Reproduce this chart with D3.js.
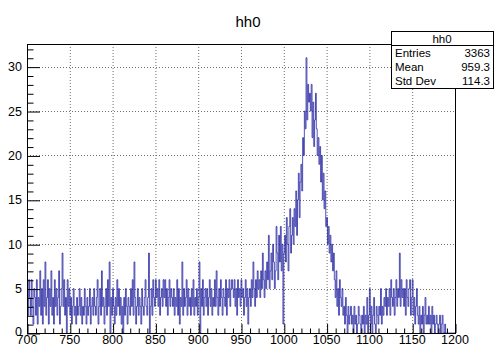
<!DOCTYPE html>
<html>
<head>
<meta charset="utf-8">
<script src="https://cdn.jsdelivr.net/npm/d3@7"></script>
<style>
  html, body { margin: 0; padding: 0; background: #fff; }
  svg { display: block; font-family: "Liberation Sans", Arial, sans-serif; }
</style>
</head>
<body>
<svg id="chart" width="501" height="347"></svg>
<script>
// hh0 – 1D histogram, 500 bins of width 1 over [700, 1200]
const binLow = 700, binWidth = 1;
const counts = [
  5,2,6,4,2,6,3,1,5,4,  2,6,1,4,3,7,2,5,1,6,  3,8,2,4,6,1,5,3,7,2,
  4,1,6,3,5,2,4,7,1,3,  5,9,3,6,2,4,0,6,3,5,  2,4,1,3,5,2,3,1,4,2,
  3,5,2,4,1,3,2,5,3,1,  4,2,3,5,1,3,4,2,5,3,  2,4,6,1,3,5,2,7,3,4,
  1,3,5,2,6,3,8,0,4,2,  5,3,1,4,2,6,3,5,2,4,  1,3,0,4,2,5,3,1,4,3,
  2,5,3,6,2,8,4,1,3,5,  2,4,3,1,5,3,2,4,6,3,  2,4,9,0,3,5,2,6,4,3,
  6,4,5,3,6,2,4,5,3,6,  4,6,3,5,2,4,6,3,5,4,  3,5,2,4,3,6,2,5,1,4,
  3,8,2,5,3,4,6,2,5,3,  4,2,5,3,6,2,4,3,5,2,  4,8,0,5,3,6,2,4,5,3,
  5,2,4,6,3,5,2,4,3,6,  3,7,4,2,5,3,6,4,2,5,  4,3,6,2,5,4,6,3,5,6,
  5,4,6,3,5,2,6,4,5,3,  6,4,5,2,4,6,3,5,1,4,  5,3,6,4,8,5,3,6,4,7,
  5,6,4,7,5,9,6,4,7,5,  8,6,11,5,7,9,6,10,8,5, 7,12,9,6,11,8,12,7,10,1,
  9,11,8,13,10,7,12,14,9,11, 13,10,14,12,16,11,15,18,13,17,
  19,16,22,20,25,23,31,24,28,26, 27,25,28,22,26,21,24,27,23,20,
  22,19,21,17,20,15,18,14,16,12, 13,10,12,9,11,8,10,7,9,6,
  4,7,3,5,2,6,4,3,5,2,  3,1,4,2,0,3,1,2,3,1,  2,0,3,1,2,0,1,3,2,1,
  0,2,1,3,0,2,1,4,0,2,  5,1,3,0,2,4,1,0,3,2,  1,3,2,5,1,3,2,4,3,5,
  2,4,3,5,2,6,4,3,5,2,  4,6,3,5,4,9,3,6,4,5,  3,5,2,6,4,3,5,6,2,4,
  6,2,4,1,3,5,2,1,3,0,  2,1,3,0,2,4,1,2,1,3,  1,2,0,3,1,2,0,1,2,1,
  0,1,2,0,1,2,0,0,1,0,  0,0,0,0,0,0,0,0,0,0
];
const xTicks = [700, 750, 800, 850, 900, 950, 1000, 1050, 1100, 1150, 1200];
const yTicks = [0, 5, 10, 15, 20, 25, 30];
const statLabels = ["Entries", "Mean", "Std Dev"];
const statValues = ["3363", "959.3", "114.3"];
const title = "hh0";

const svg = d3.select("#chart");
const frame = { left: 27, right: 455, top: 44, bottom: 333 };

const x = d3.scaleLinear().domain([700, 1200]).range([frame.left, frame.right]);
const y = d3.scaleLinear().domain([0, 32.55]).range([frame.bottom, frame.top]);

// grid (dotted, at major ticks)
const grid = svg.append("g").attr("stroke", "#333").attr("stroke-width", 1)
  .attr("stroke-dasharray", "1,2").attr("opacity", 0.7);
xTicks.slice(1, -1).forEach(v => {
  grid.append("line").attr("x1", x(v) + 0.5).attr("x2", x(v) + 0.5)
    .attr("y1", frame.top).attr("y2", frame.bottom);
});
yTicks.slice(1).forEach(v => {
  grid.append("line").attr("x1", frame.left).attr("x2", frame.right)
    .attr("y1", Math.round(y(v)) + 0.5).attr("y2", Math.round(y(v)) + 0.5);
});

// histogram outline
const pts = [];
counts.forEach((c, i) => {
  const lo = binLow + i * binWidth;
  pts.push([x(lo), y(c)], [x(lo + binWidth), y(c)]);
});
svg.append("path")
  .attr("d", d3.line()(pts))
  .attr("fill", "none")
  .attr("stroke", "#1a1a9c")
  .attr("stroke-width", 0.75);

// frame
svg.append("rect")
  .attr("x", frame.left + 0.5).attr("y", frame.top + 0.5)
  .attr("width", frame.right - frame.left).attr("height", frame.bottom - frame.top)
  .attr("fill", "none").attr("stroke", "#000");

// x axis ticks (pointing up) – majors every 50, minors every 10
const xAxis = d3.axisTop(x)
  .tickValues(d3.range(700, 1201, 10))
  .tickSize(0).tickFormat("");
const xg = svg.append("g").attr("transform", `translate(0.5,${frame.bottom})`).call(xAxis);
xg.select(".domain").remove();
xg.selectAll(".tick line")
  .attr("y2", d => d % 50 === 0 ? -9 : -4.5).attr("stroke", "#000");
svg.append("g").selectAll("text").data(xTicks).join("text")
  .attr("x", d => x(d)).attr("y", 344)
  .attr("text-anchor", "middle").attr("font-size", 12.5).attr("fill", "#000")
  .text(d => d);

// y axis ticks (pointing right) – majors every 5, minors every 1
const yAxis = d3.axisRight(y)
  .tickValues(d3.range(0, 33, 1))
  .tickSize(0).tickFormat("");
const yg = svg.append("g").attr("transform", `translate(${frame.left},0.5)`).call(yAxis);
yg.select(".domain").remove();
yg.selectAll(".tick line")
  .attr("x2", d => d % 5 === 0 ? 13 : 6.5).attr("stroke", "#000");
svg.append("g").selectAll("text").data(yTicks).join("text")
  .attr("x", 22).attr("y", d => y(d) + (d === 0 ? 2.5 : 4.5))
  .attr("text-anchor", "end").attr("font-size", 12.5).attr("fill", "#000")
  .text(d => d);

// title
svg.append("text").attr("x", 248).attr("y", 27)
  .attr("text-anchor", "middle").attr("font-size", 15).attr("fill", "#000")
  .text(title);

// stats box
const box = { x: 391, y: 31, w: 102, h: 57 };
const sb = svg.append("g");
sb.append("rect").attr("x", box.x + 0.5).attr("y", box.y + 0.5)
  .attr("width", box.w).attr("height", box.h)
  .attr("fill", "#fff").attr("stroke", "#000");
sb.append("line").attr("x1", box.x).attr("x2", box.x + box.w)
  .attr("y1", box.y + 14.5).attr("y2", box.y + 14.5).attr("stroke", "#000");
sb.append("text").attr("x", box.x + box.w / 2).attr("y", box.y + 11.5)
  .attr("text-anchor", "middle").attr("font-size", 11.5).text(title);
statLabels.forEach((lab, i) => {
  const ty = box.y + 26 + i * 14;
  sb.append("text").attr("x", box.x + 4).attr("y", ty)
    .attr("font-size", 11.5).text(lab);
  sb.append("text").attr("x", box.x + box.w - 3).attr("y", ty)
    .attr("text-anchor", "end").attr("font-size", 11.5).text(statValues[i]);
});
</script>
</body>
</html>
